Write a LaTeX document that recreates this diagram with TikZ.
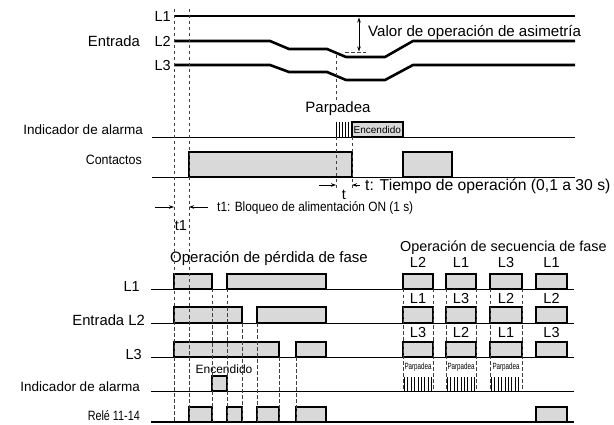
\documentclass[tikz,border=0pt]{standalone}
\usepackage{fontspec}
\setmainfont{Liberation Sans}
\usetikzlibrary{arrows.meta}
\newcommand{\sqz}[2]{\resizebox{#1pt}{\height}{#2}}
\begin{document}
\begin{tikzpicture}[x=1pt,y=-1pt,
  sig/.style={line width=2.6pt, line join=round},
  base/.style={line width=0.9pt},
  dsh/.style={line width=0.8pt, dash pattern=on 3.5pt off 2.5pt, black!75},
  pbox/.style={draw, line width=1.3pt, fill=gray!30},
  lab/.style={inner sep=0pt, text depth=0pt, font=\fontsize{#1}{#1}\selectfont, text height={0.716*#1pt}},
  lab/.default=14.5,
  arr/.style={line width=0.8pt, -{Stealth[length=5pt,width=3.5pt]}},
]
\useasboundingbox (0,0) rectangle (614,425);

% ---------------- top part ----------------
\draw[sig] (174,16) -- (575,16);
\draw[sig] (174,41) -- (270,41) -- (289,49) -- (327,49) -- (346,57) -- (385,57) -- (413,41) -- (575,41);
\draw[sig] (174,65) -- (270,65) -- (289,72) -- (327,72) -- (346,80) -- (385,80) -- (413,65) -- (575,65);

\node[lab, anchor=east] (tl1) at (171,16) {L1};
\node[lab, anchor=east] (tl2) at (171,41) {L2};
\node[lab, anchor=east] (tl3) at (171,65) {L3};
\node[lab=14.8, anchor=east] (tent) at (140,41) {Entrada};

% asymmetry
\draw[line width=0.8pt, {Stealth[length=5pt,width=3.5pt]}-{Stealth[length=5pt,width=3.5pt]}] (359,17.5) -- (359,51.5);
\draw[dsh] (345,52) -- (366,52);
\node[lab=15.1, anchor=west] (tval) at (368,31) {Valor de operación de asimetría};

% Parpadea
\node[lab=15] (tpar) at (338,107) {Parpadea};

% indicator row
\draw[base] (152,137) -- (575,137);
\foreach \x in {336,339,342,345,348} \draw[line width=0.8pt] (\x,122) -- (\x,137);
\draw[pbox] (352,122) rectangle (403,137);
\node[lab=10, anchor=west] (tenc) at (353.5,129.5) {Encendido};
\node[lab=13.5, anchor=east] (tind) at (143,130) {Indicador de alarma};

% contacts row
\draw[base] (152,177) -- (575,177);
\draw[pbox] (189,152) rectangle (352,177);
\draw[pbox] (403,152) rectangle (452,177);
\node[lab=13.5, anchor=east] (tcon) at (142,160) {\sqz{56}{Contactos}};

% dashed verticals top
\draw[dsh] (336,55) -- (336,100);
\draw[dsh] (336,137) -- (336,188);
\draw[dsh] (352,137) -- (352,188);

% t arrows
\draw[arr] (319,185) -- (336,185);
\draw[arr] (360,185) -- (352,185);
\node[lab] (tt) at (344,194) {t};
\node[lab=15.7, anchor=west] (ttdesc) at (365,185) {t: Tiempo de operación (0,1 a 30 s)};

% t1 arrows
\draw[arr] (155,207) -- (174,207);
\draw[arr] (208,207) -- (189,207);
\node[lab] (tt1) at (181,225) {t1};
\node[lab=13.5, anchor=west] (tt1desc) at (217,207) {\sqz{196}{t1: Bloqueo de alimentación ON (1 s)}};

% ---------------- bottom part ----------------
\node[lab=15, anchor=west] (tper) at (170,257) {Operación de pérdida de fase};
\node[lab=14.4, anchor=west] (tsec) at (400,246) {Operación de secuencia de fase};

\node[lab, anchor=east] (bl1) at (140,286) {L1};
\node[lab=14.8, anchor=east] (bl2) at (145,320) {Entrada L2};
\node[lab, anchor=east] (bl3) at (142,354) {L3};
\node[lab=13.5, anchor=east] (bind) at (140,387) {Indicador de alarma};
\node[lab=13.5, anchor=east] (brel) at (140,416) {\sqz{52}{Relé 11-14}};

% baselines
\draw[base] (151,289) -- (574,289);
\draw[base] (151,323) -- (574,323);
\draw[base] (151,357) -- (574,357);
\draw[base] (151,391) -- (574,391);
\draw[line width=1.5pt] (151,422) -- (574,422);

% phase loss boxes
\draw[pbox] (174,274) rectangle (212,289);
\draw[pbox] (227,274) rectangle (326,289);
\draw[pbox] (174,307) rectangle (242,323);
\draw[pbox] (257,307) rectangle (326,323);
\draw[pbox] (174,342) rectangle (279,357);
\draw[pbox] (296,342) rectangle (326,357);
\draw[pbox] (212,376) rectangle (227,391);
\draw[pbox] (189,407) rectangle (212,422);
\draw[pbox] (227,407) rectangle (242,422);
\draw[pbox] (257,407) rectangle (279,422);
\draw[pbox] (296,407) rectangle (326,422);
\node[lab=12] (benc) at (224,369) {Encendido};

% dashed verticals bottom-left
\draw[dsh] (174,9) -- (174,422);
\draw[dsh] (189,9) -- (189,422);
\draw[dsh] (212,289) -- (212,422);
\draw[dsh] (227,289) -- (227,422);
\draw[dsh] (242,323) -- (242,422);
\draw[dsh] (257,323) -- (257,422);
\draw[dsh] (279,357) -- (279,422);
\draw[dsh] (296,357) -- (296,422);

% phase sequence
\foreach \a/\b/\la/\lb/\lc [count=\i] in {403/433/L2/L1/L3, 446/476/L1/L3/L2, 490/522/L3/L2/L1, 536/567/L1/L2/L3} {
  \draw[pbox] (\a,274) rectangle (\b,289);
  \draw[pbox] (\a,307) rectangle (\b,323);
  \draw[pbox] (\a,342) rectangle (\b,357);
  \node[lab] (sa\i) at ({(\a+\b)/2},262) {\la};
  \node[lab] (sb\i) at ({(\a+\b)/2},298) {\lb};
  \node[lab] (sc\i) at ({(\a+\b)/2},332) {\lc};
}
\foreach \a/\b [count=\i] in {403/433, 446/476, 490/522} {
  \draw[dsh] (\a,289) -- (\a,391);
  \draw[dsh] (\b,289) -- (\b,391);
  \node[lab=9] (sp\i) at ({(\a+\b)/2},366) {\sqz{27}{Parpadea}};
  \foreach \k in {0,...,8} \draw[line width=0.9pt] ({\a+1.5+\k*3.4},377) -- ({\a+1.5+\k*3.4},391);
}
\draw[pbox] (536,407) rectangle (567,422);
\end{tikzpicture}
\end{document}
